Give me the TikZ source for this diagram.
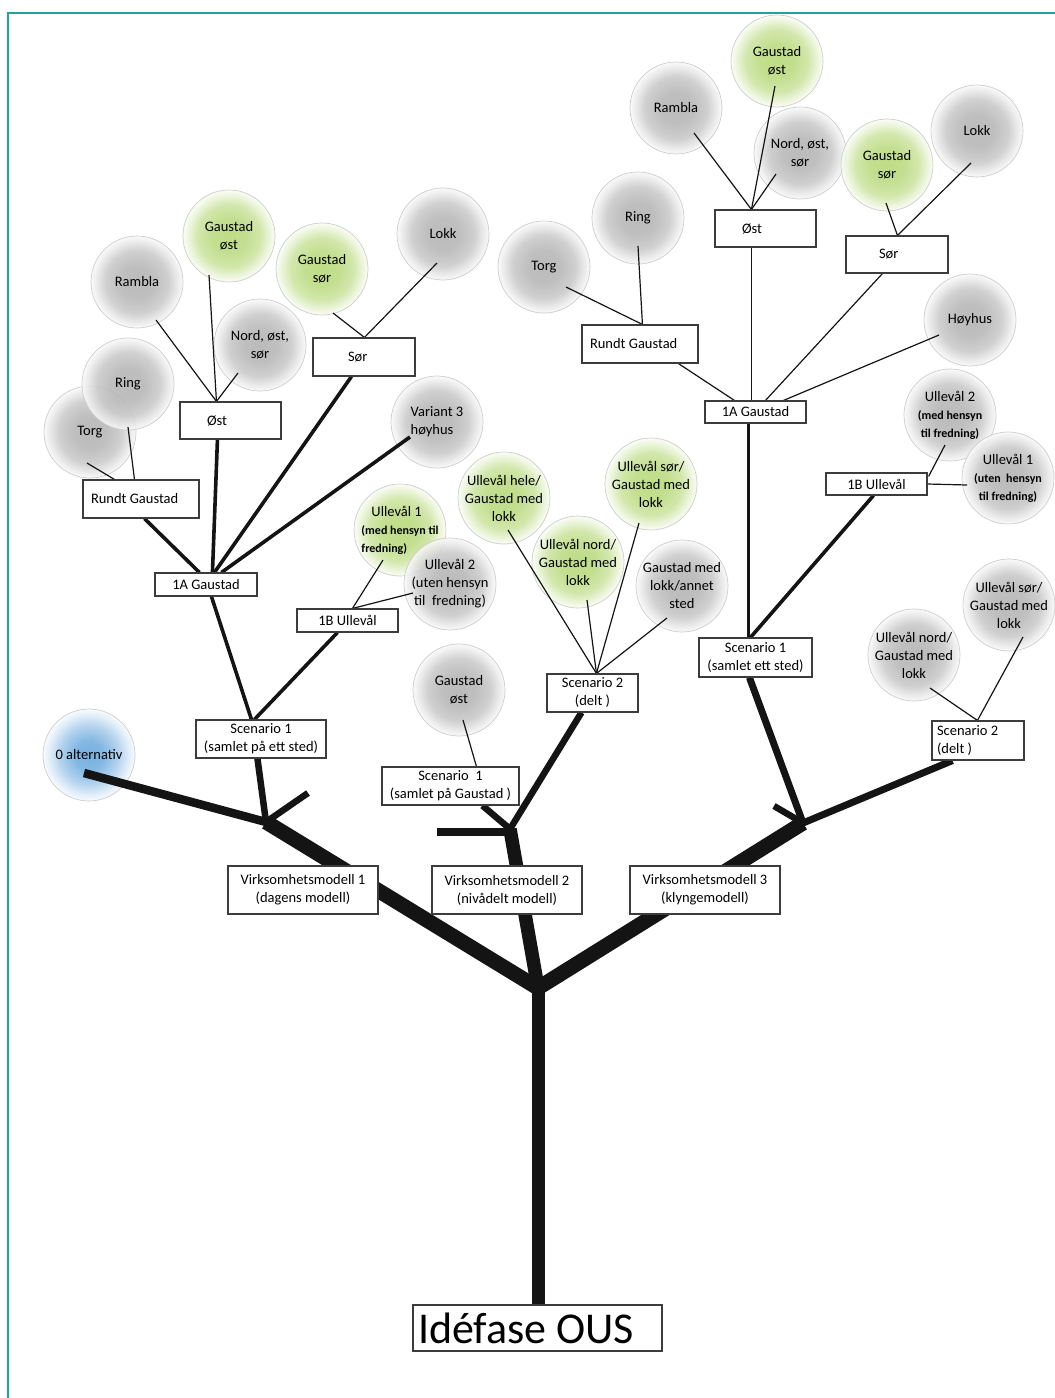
\documentclass[tikz,border=0pt]{standalone}
\usepackage{fontspec}
\setmainfont{Carlito}
\usetikzlibrary{calc}
\definecolor{tealB}{RGB}{30,165,155}
\definecolor{grayC}{RGB}{178,178,178}
\definecolor{greenC}{RGB}{182,216,120}
\definecolor{blueC}{RGB}{100,165,220}
\definecolor{ringC}{RGB}{205,205,205}
\definecolor{boxC}{RGB}{60,60,60}
\definecolor{inkC}{RGB}{20,20,20}
\pgfdeclareradialshading{shgray}{\pgfpointorigin}{color(0bp)=(grayC); color(9bp)=(grayC!95!white); color(17bp)=(grayC!70!white); color(22bp)=(grayC!30!white); color(25bp)=(grayC!8!white); color(50bp)=(white)}
\pgfdeclareradialshading{shgreen}{\pgfpointorigin}{color(0bp)=(greenC); color(9bp)=(greenC!95!white); color(17bp)=(greenC!70!white); color(22bp)=(greenC!30!white); color(25bp)=(greenC!8!white); color(50bp)=(white)}
\pgfdeclareradialshading{shblue}{\pgfpointorigin}{color(0bp)=(blueC); color(8bp)=(blueC!90!white); color(16bp)=(blueC!55!white); color(22bp)=(blueC!20!white); color(25bp)=(blueC!5!white); color(50bp)=(white)}
\pgfdeclarelayer{circles}
\pgfdeclarelayer{lines}
\pgfsetlayers{circles,lines,main}
\newcommand\smb[1]{{\fontsize{12}{15}\selectfont\bfseries #1}}
\newcommand\ns{\spaceskip=0pt\xspaceskip=0pt\relax}
\tikzset{
  txt/.style={font=\fontsize{14.5}{18}\selectfont},
  circ/.style={circle, minimum size=92pt, inner sep=0pt, draw=ringC, line width=0.7pt, align=center, txt, fill opacity=0.88, draw opacity=1, text opacity=1},
  cgray/.style={circ, shade, shading=shgray},
  cgreen/.style={circ, shade, shading=shgreen},
  cblue/.style={circ, shade, shading=shblue},
  box/.style={draw=boxC, line width=1.1pt, fill=white, inner sep=0pt, align=center, txt},
  lbox/.style={box, align=left},
  thinl/.style={draw=inkC, line width=1.2pt},
  lvl/.style={draw=inkC, line width=3.6pt},
  stem/.style={draw=inkC, line width=6.5pt},
  heavy/.style={draw=inkC, line width=15pt},
}
\begin{document}
\begin{tikzpicture}[x=1pt,y=-1pt]
\useasboundingbox (0,0) rectangle (1055,1398);
\draw[tealB, line width=1.5pt] (8,1398) -- (8,13) -- (1055,13);

% ---------- circles ----------
\begin{pgfonlayer}{circles}
% left
\node[cgray]  (rambL) at (137,282) {Rambla};
\node[cgreen] (gostL) at (229,236) {Gaustad\\øst};
\node[cgreen] (gsorL) at (322,269) {Gaustad\\sør};
\node[cgray]  (lokkL) at (443,234) {Lokk};
\node[cgray]  (nordL) at (260,345) {Nord, øst,\\sør};
\node[cgray]  (torgL) at (90,432) {Torg};
\node[cgray]  (ringL) at (128,384) {Ring};
\node[cgray, align=left]  (var3) at (437,422) {\ns Variant 3\\høyhus};
\node[cgreen, align=left] (ull1L) at (400,530) {\ns\hspace*{10pt}Ullevål 1\\\smb{\ns(med hensyn til}\\\smb{fredning)}};
\node[cgray]  (ull2L) at (450,584) {Ullevål 2\\(uten hensyn\\til \ fredning)};
\node[cblue]  (alt0) at (89,755) {0 alternativ};
% middle
\node[cgreen] (uhele) at (504,498) {Ullevål hele/\\Gaustad med\\lokk};
\node[cgreen] (usorM) at (651,484) {Ullevål sør/\\Gaustad med\\lokk};
\node[cgreen] (unordM) at (578,562) {Ullevål nord/\\Gaustad med\\lokk};
\node[cgray]  (gmlas) at (682,586) {Gaustad med\\lokk/annet\\sted};
\node[cgray]  (gostM) at (459,690) {Gaustad\\øst};
% right
\node[cgray]  (rambR) at (676,108) {Rambla};
\node[cgray]  (nordR) at (800,153) {Nord, øst,\\sør};
\node[cgreen] (gostR) at (777,61) {Gaustad\\øst};
\node[cgray]  (lokkR) at (977,131) {Lokk};
\node[cgreen] (gsorR) at (887,165) {Gaustad\\sør};
\node[cgray]  (ringR) at (638,218) {Ring};
\node[cgray]  (torgR) at (544,267) {Torg};
\node[cgray]  (hoyR) at (970,320) {Høyhus};
\node[cgray]  (ull2R) at (950,415) {Ullevål 2\\\smb{(med hensyn}\\\smb{til fredning)}};
\node[cgray]  (ull1R) at (1008,478) {Ullevål 1\\\smb{(uten \ hensyn}\\\smb{til fredning)}};
\node[cgray]  (usorR) at (1009,605) {Ullevål sør/\\Gaustad med\\lokk};
\node[cgray]  (unordR) at (914,655) {Ullevål nord/\\Gaustad med\\lokk};
\end{pgfonlayer}

% ---------- boxes ----------
\node[lbox, text width=239pt, inner xsep=5pt, minimum height=46pt, font=\fontsize{44}{50}\selectfont] (idef) at (537.5,1328) {\ns Idéfase OUS};
\node[box, minimum width=150pt, minimum height=48pt] (vm1) at (303,890) {Virksomhetsmodell 1\\(dagens modell)};
\node[box, minimum width=150pt, minimum height=48pt] (vm2) at (507,890) {Virksomhetsmodell 2\\(nivådelt modell)};
\node[box, minimum width=150pt, minimum height=48pt] (vm3) at (705,890) {Virksomhetsmodell 3\\(klyngemodell)};
\node[box, minimum width=130pt, minimum height=38pt] (sc1L) at (261,739) {Scenario 1\\(samlet på ett sted)};
\node[box, minimum width=137pt, minimum height=38pt] (sc1M) at (450.5,786) {Scenario \ 1\\(samlet på Gaustad )};
\node[box, minimum width=91pt, minimum height=38pt] (sc2M) at (592.5,693) {Scenario 2\\(delt )};
\node[box, minimum width=113pt, minimum height=39pt] (sc1R) at (755.5,657.5) {Scenario 1\\(samlet ett sted)};
\node[lbox, text width=82pt, inner xsep=5pt, minimum height=39pt] (sc2R) at (978,740.5) {\ns Scenario 2\\\ns(delt )};
\node[box, minimum width=102pt, minimum height=23pt] (a1L) at (206,584.5) {1A Gaustad};
\node[box, minimum width=101pt, minimum height=23pt] (b1L) at (347.5,620.5) {1B Ullevål};
\node[lbox, text width=100pt, inner xsep=8pt, minimum height=38pt] (rgL) at (141,499) {\ns Rundt Gaustad};
\node[lbox, text width=47pt, inner xsep=27pt, minimum height=37pt] (ostL) at (230.5,420.5) {Øst};
\node[lbox, text width=32pt, inner xsep=35pt, minimum height=38pt] (sorL) at (364,357) {Sør};
\node[lbox, text width=100pt, inner xsep=8pt, minimum height=38pt] (rgR) at (640,344) {\ns Rundt Gaustad};
\node[lbox, text width=47pt, inner xsep=27pt, minimum height=37pt] (ostR) at (765.5,228.5) {Øst};
\node[lbox, text width=36pt, inner xsep=33pt, minimum height=37pt] (sorR) at (897,254.5) {Sør};
\node[box, minimum width=101pt, minimum height=22pt] (a1R) at (755.5,412) {1A Gaustad};
\node[box, minimum width=101pt, minimum height=22pt] (b1R) at (876.5,484) {1B Ullevål};

% ---------- junctions ----------
\coordinate (fork) at (538,988);
\coordinate (j1) at (266,822);
\coordinate (s1) at (308,793);
\coordinate (j2) at (510,829);
\coordinate (s2) at (437,832);
\coordinate (j3) at (803,823);
\coordinate (s3) at (774,806);

% ---------- connectors ----------
\begin{pgfonlayer}{lines}
% left thin
\draw[thinl] ($(rambL.center)+(19,38)$) -- ($(ostL.north west)+(37,0)$);
\draw[thinl] ($(gostL.center)+(-20,39)$) -- ($(ostL.north west)+(37,0)$);
\draw[thinl] ($(nordL.center)+(-22,28)$) -- ($(ostL.north west)+(37,0)$);
\draw[thinl] ($(gsorL.center)+(11,44)$) -- ($(sorL.north west)+(52,0)$);
\draw[thinl] ($(lokkL.center)+(-6,29)$) -- ($(sorL.north west)+(52,0)$);
\draw[thinl] ($(ringL.center)+(0,43)$) -- ($(rgL.north west)+(52,0)$);
\draw[thinl] ($(torgL.center)+(-3,31)$) -- ($(rgL.north west)+(32,0)$);
\draw[thinl] ($(ull1L.center)+(-17,30)$) -- ($(b1L.north west)+(56,0)$);
\draw[thinl] ($(ull2L.center)+(-37,9)$) -- ($(b1L.north west)+(56,0)$);
% left level lines
\draw[lvl] ($(rgL.south west)+(62,0)$) -- ($(a1L.north west)+(45,0)$);
\draw[lvl] ($(ostL.south west)+(38,0)$) -- ($(a1L.north west)+(58,0)$);
\draw[lvl] ($(sorL.south west)+(39,0)$) -- ($(a1L.north west)+(60,0)$);
\draw[lvl] ($(var3.center)+(-27,15)$) -- ($(a1L.north west)+(67,0)$);
\draw[lvl] ($(a1L.south west)+(57,0)$) -- ($(sc1L.north west)+(56,0)$);
\draw[lvl] ($(b1L.south west)+(41,0)$) -- ($(sc1L.north west)+(59,0)$);
% left stems
\draw[stem] ($(sc1L.south west)+(62,0)$) -- (j1);
\draw[stem] (s1) -- (j1);
\draw[draw=inkC, line width=8.5pt] ($(alt0.center)+(-5,18)$) -- (j1);
\draw[heavy] (j1) -- (fork);
% middle
\draw[thinl] ($(gostM.center)+(4,30)$) -- ($(sc1M.north west)+(95,0)$);
\draw[thinl] ($(uhele.center)+(4,32)$) -- ($(sc2M.north west)+(50,0)$);
\draw[thinl] ($(unordM.center)+(9,38)$) -- ($(sc2M.north west)+(50,0)$);
\draw[thinl] ($(usorM.center)+(-12,39)$) -- ($(sc2M.north west)+(50,0)$);
\draw[thinl] ($(gmlas.center)+(-15,32)$) -- ($(sc2M.north west)+(50,0)$);
\draw[stem] ($(sc1M.south west)+(101,0)$) -- (j2);
\draw[stem] ($(sc2M.south west)+(35,0)$) -- (j2);
\draw[draw=inkC, line width=7.5pt] (s2) -- (s2 -| j2);
\draw[draw=inkC, line width=13.5pt] (j2) -- (fork);
% right thin
\draw[thinl] ($(rambR.center)+(18,25)$) -- ($(ostR.north west)+(37,0)$);
\draw[thinl] ($(gostR.center)+(-2,25)$) -- ($(ostR.north west)+(37,0)$);
\draw[thinl] ($(nordR.center)+(-24,21)$) -- ($(ostR.north west)+(37,0)$);
\draw[thinl] ($(gsorR.center)+(-1,38)$) -- ($(sorR.north west)+(52,0)$);
\draw[thinl] ($(lokkR.center)+(-6,32)$) -- ($(sorR.north west)+(52,0)$);
\draw[thinl] ($(ringR.center)+(0,28)$) -- ($(rgR.north west)+(61,0)$);
\draw[thinl] ($(torgR.center)+(22,20)$) -- ($(rgR.north west)+(61,0)$);
\draw[thinl] ($(rgR.south west)+(97,0)$) -- ($(a1R.north west)+(30,0)$);
\draw[thinl] ($(ostR.south west)+(37,0)$) -- ($(a1R.north west)+(47,0)$);
\draw[thinl] ($(sorR.south west)+(37,0)$) -- ($(a1R.north west)+(61,0)$);
\draw[thinl] ($(hoyR.center)+(-31,15)$) -- ($(a1R.north west)+(79,0)$);
\draw[thinl] ($(ull2R.center)+(-5,30)$) -- ($(b1R.north east)+(1,4)$);
\draw[thinl] ($(ull1R.center)+(-41,7)$) -- (b1R.east);
\draw[thinl] ($(unordR.center)+(16,33)$) -- ($(sc2R.north west)+(46,0)$);
\draw[thinl] ($(usorR.center)+(14,32)$) -- ($(sc2R.north west)+(46,0)$);
\draw[lvl] ($(a1R.south west)+(44,0)$) -- ($(sc1R.north west)+(50,0)$);
\draw[lvl] ($(b1R.south west)+(48,0)$) -- ($(sc1R.north west)+(52,0)$);
\draw[draw=inkC, line width=7pt] ($(sc1R.south west)+(51,0)$) -- (j3);
\draw[draw=inkC, line width=7pt] ($(sc2R.south west)+(21,0)$) -- (j3);
\draw[stem] (s3) -- (j3);
\draw[heavy] (j3) -- (fork);
% trunk
\draw[draw=inkC, line width=13pt] (fork) -- (fork |- idef.north);
\end{pgfonlayer}
\end{tikzpicture}
\end{document}
